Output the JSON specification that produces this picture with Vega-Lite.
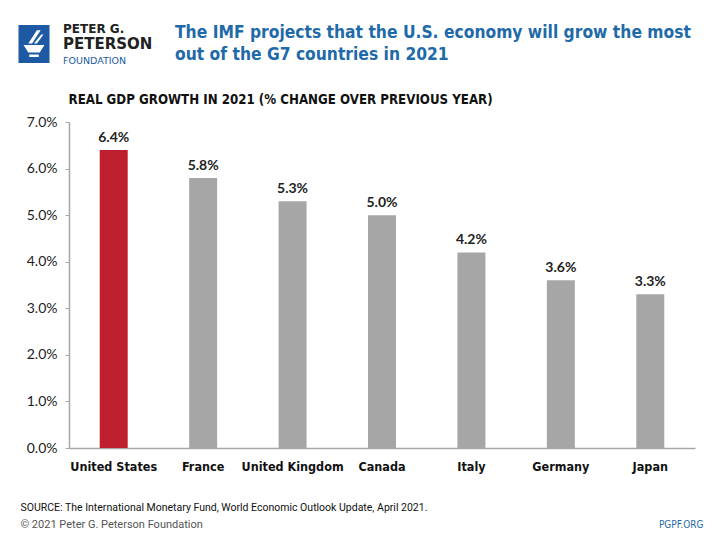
{
  "$schema": "https://vega.github.io/schema/vega-lite/v6.json",
  "width": 626,
  "height": 326,
  "autosize": {"type": "none"},
  "padding": {"left": 69, "top": 122, "right": 25, "bottom": 92},
  "background": "white",
  "config": {"view": {"stroke": null}, "font": "Lato"},
  "title": {
    "text": ["The IMF projects that the U.S. economy will grow the most", "out of the G7 countries in 2021"],
    "anchor": "start",
    "frame": "group",
    "orient": "top",
    "font": "DejaVu Sans Condensed",
    "fontSize": 17.3,
    "fontWeight": "bold",
    "color": "#1f6aa8",
    "lineHeight": 22,
    "dx": 106,
    "dy": 62,
    "offset": 22
  },
  "data": {
    "values": [
      {"country": "United States", "value": 0.064, "highlight": "US"},
      {"country": "France", "value": 0.058, "highlight": "Other"},
      {"country": "United Kingdom", "value": 0.053, "highlight": "Other"},
      {"country": "Canada", "value": 0.050, "highlight": "Other"},
      {"country": "Italy", "value": 0.042, "highlight": "Other"},
      {"country": "Germany", "value": 0.036, "highlight": "Other"},
      {"country": "Japan", "value": 0.033, "highlight": "Other"}
    ]
  },
  "resolve": {"axis": {"x": "independent", "y": "independent"}},
  "layer": [
    {
      "mark": {"type": "bar"},
      "encoding": {
        "x": {
          "field": "country", "type": "nominal", "sort": null,
          "scale": {"paddingInner": 0.687, "paddingOuter": 0.3435},
          "axis": {
            "orient": "bottom",
            "ticks": false,
            "domainColor": "#a6a6a6",
            "domainWidth": 1.5,
            "labelFont": "DejaVu Sans Condensed",
            "labelFontWeight": "bold",
            "labelFontSize": 12.5,
            "labelColor": "#111111",
            "labelPadding": 12,
            "labelAngle": 0,
            "title": "SOURCE: The International Monetary Fund, World Economic Outlook Update, April 2021.",
            "titleFont": "Roboto",
            "titleFontSize": 10.5,
            "titleFontWeight": "normal",
            "titleColor": "#111111",
            "titleAlign": "left",
            "titleBaseline": "alphabetic",
            "titleAnchor": null,
            "titleX": -49,
            "titleY": 62
          }
        },
        "y": {
          "field": "value", "type": "quantitative",
          "scale": {"domain": [0, 0.07], "nice": false},
          "axis": {
            "orient": "left",
            "values": [0, 0.01, 0.02, 0.03, 0.04, 0.05, 0.06, 0.07],
            "format": ".1%",
            "grid": false,
            "domainColor": "#a6a6a6",
            "domainWidth": 1.5,
            "tickColor": "#a6a6a6",
            "tickSize": 4,
            "labelFont": "Lato",
            "labelFontSize": 14,
            "labelColor": "#222222",
            "labelPadding": 8,
            "title": "REAL GDP GROWTH IN 2021 (% CHANGE OVER PREVIOUS YEAR)",
            "titleFont": "DejaVu Sans Condensed",
            "titleFontSize": 13.2,
            "titleFontWeight": "bold",
            "titleColor": "#111111",
            "titleAngle": 0,
            "titleAlign": "left",
            "titleBaseline": "alphabetic",
            "titleAnchor": null,
            "titleX": -1,
            "titleY": -19
          }
        },
        "color": {
          "field": "highlight", "type": "nominal",
          "scale": {"domain": ["US", "Other", "PGPF"], "range": ["#bd1f2e", "#a6a6a6", "#1d5aa3"]},
          "legend": {
            "orient": "none",
            "legendX": -54,
            "legendY": -97,
            "values": ["PGPF"],
            "title": null,
            "symbolType": "M-0.816,-1H0.816V1H-0.816Z M-0.55,0.05L-0.3,0.45L0.3,0.45L0.55,0.05Z M-0.25,0.55L-0.25,0.68L0.25,0.68L0.25,0.55Z M-0.1,-0.02L0.35,-0.72L0.15,-0.72L-0.3,-0.02Z M0.15,-0.02L0.5,-0.5L0.38,-0.5L0.0,-0.02Z",
            "symbolSize": 1444,
            "symbolStrokeWidth": 0,
            "symbolOpacity": 1,
            "labelExpr": "'PETERSON'",
            "labelFont": "DejaVu Sans",
            "labelFontWeight": "bold",
            "labelFontSize": 15,
            "labelColor": "#222222",
            "labelOffset": 10
          }
        },
        "opacity": {
          "field": "country", "type": "nominal",
          "scale": {"range": [1, 1, 1, 1, 1, 1, 1]},
          "legend": {
            "orient": "none",
            "legendX": -6,
            "legendY": -99,
            "values": ["United States"],
            "title": "FOUNDATION",
            "titleOrient": "bottom",
            "titlePadding": 21,
            "titleFont": "DejaVu Sans",
            "titleFontSize": 9.5,
            "titleFontWeight": "normal",
            "titleColor": "#1d5aa3",
            "symbolSize": 0,
            "symbolStrokeWidth": 0,
            "symbolFillColor": "transparent",
            "symbolStrokeColor": "transparent",
            "labelOffset": -12,
            "labelExpr": "'PETER G.'",
            "labelFont": "DejaVu Sans",
            "labelFontWeight": "bold",
            "labelFontSize": 12,
            "labelColor": "#222222",
            "encode": {"symbols": {"update": {"opacity": {"value": 0}}}}
          }
        }
      }
    },
    {
      "mark": {"type": "text", "baseline": "bottom", "dy": -5, "fontSize": 14, "fontWeight": "bold", "font": "Lato", "color": "#222222"},
      "encoding": {
        "x": {
          "field": "country", "type": "nominal", "sort": null,
          "axis": {
            "orient": "top", "labels": false, "ticks": false, "domain": false,
            "title": "PGPF.ORG",
            "titleFont": "DejaVu Sans Condensed",
            "titleFontSize": 10,
            "titleFontWeight": "normal",
            "titleColor": "#1f6aa8",
            "titleAlign": "right",
            "titleBaseline": "alphabetic",
            "titleAnchor": null,
            "titleX": 634,
            "titleY": 405
          }
        },
        "y": {
          "field": "value", "type": "quantitative",
          "axis": {
            "orient": "right", "labels": false, "ticks": false, "domain": false, "grid": false,
            "title": "© 2021 Peter G. Peterson Foundation",
            "titleFont": "Roboto",
            "titleFontSize": 11,
            "titleFontWeight": "normal",
            "titleColor": "#555555",
            "titleAngle": 0,
            "titleAlign": "left",
            "titleBaseline": "alphabetic",
            "titleAnchor": null,
            "titleX": -675,
            "titleY": 405
          }
        },
        "text": {"field": "value", "type": "quantitative", "format": ".1%"}
      }
    }
  ]
}
